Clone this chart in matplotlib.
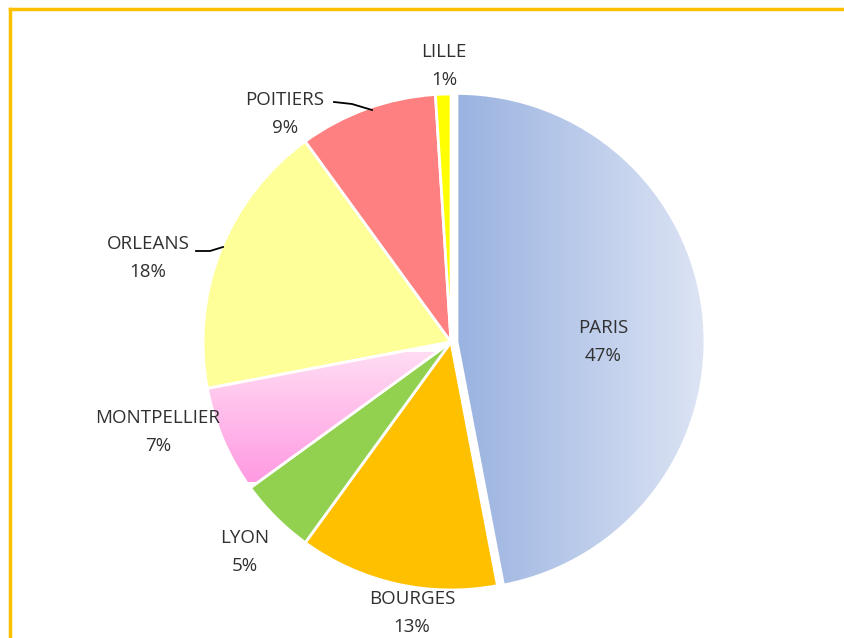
import matplotlib.pyplot as plt
import numpy as np
from matplotlib.lines import Line2D
from matplotlib.colors import LinearSegmentedColormap

villes = ['PARIS', 'BOURGES', 'LYON', 'MONTPELLIER', 'ORLEANS', 'POITIERS', 'LILLE']
parts = [47, 13, 5, 7, 18, 9, 1]
couleurs = ['#b3c6ea', '#ffc000', '#92d050', '#ffc4ee', '#ffff99', '#ff8080', '#ffff00']

# label centres (pixel coords, y measured from top)
pos_labels = [(603, 342), (412, 613), (245, 552), (158, 432), (148, 258), (285, 114), (444, 66)]
# leader lines for the two outside labels
leaders = {'POITIERS': [(334, 102), (352, 104), (372, 110)],
           'ORLEANS': [(196, 251), (210, 251), (223, 247)]}

W, H = 845, 638
fig = plt.figure(figsize=(W / 100, H / 100), dpi=100)
ax = fig.add_axes([0, 0, 1, 1])

cx, cy, r = 451, -342, 248
explode = [6, 0, 0, 0, 0, 0, 0]   # in data units (pixels)
wedges, _ = ax.pie(parts, colors=couleurs, startangle=90, counterclock=False,
                   center=(cx, cy), radius=r, explode=explode, frame=True,
                   wedgeprops=dict(edgecolor='white', linewidth=2))
ax.set_xlim(0, W)
ax.set_ylim(-H, 0)
ax.set_aspect('equal')
ax.axis('off')

# gradient fills (PARIS horizontal, MONTPELLIER vertical)
grad = np.linspace(0, 1, 256)
cm_paris = LinearSegmentedColormap.from_list('p', ['#98b1e0', '#dfe6f5'])
cm_mont = LinearSegmentedColormap.from_list('m', ['#ffdcf3', '#ff9ae2'])
im = ax.imshow(grad[None, :], cmap=cm_paris, extent=[cx, cx + r + 15, cy - r - 10, cy + r + 10],
               aspect='auto', zorder=wedges[0].get_zorder() + 0.1)
im.set_clip_path(wedges[0])
im2 = ax.imshow(grad[:, None], cmap=cm_mont, extent=[cx - r - 5, cx, cy - 140, cy - 10],
                aspect='auto', origin='upper', zorder=wedges[3].get_zorder() + 0.1)
im2.set_clip_path(wedges[3])
for i in (0, 3):
    wedges[i].set_zorder(wedges[i].get_zorder() + 0.2)
    wedges[i].set_facecolor('none')

font = 'Open Sans'
for v, p, (x, y) in zip(villes, parts, pos_labels):
    ax.text(x, -y, f'{v}\n{p}%', ha='center', va='center', fontsize=13.5,
            family=font, color='#303030', linespacing=1.7, zorder=10)

for name, pts in leaders.items():
    xs = [p[0] for p in pts]
    ys = [-p[1] for p in pts]
    ax.plot(xs, ys, color='black', lw=1.3, zorder=10)

# orange frame (top and left edges)
fig.add_artist(Line2D([10 / W, 1], [1 - 9 / H, 1 - 9 / H], color='#ffc000', lw=2.5))
fig.add_artist(Line2D([10 / W, 10 / W], [0, 1 - 9 / H], color='#ffc000', lw=2.5))

fig.savefig('out.png', dpi=100, facecolor='white')
